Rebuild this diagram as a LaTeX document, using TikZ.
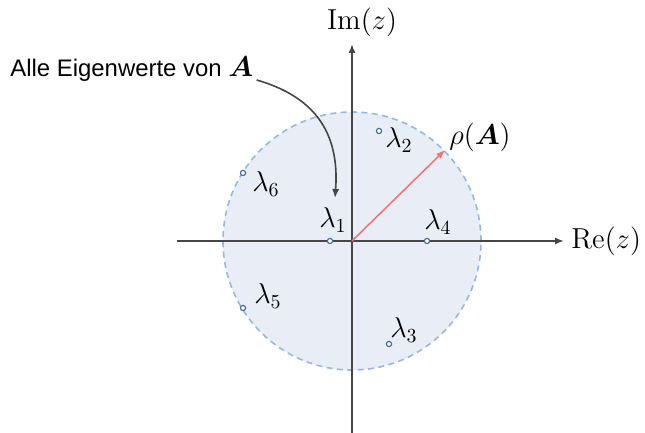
\documentclass[tikz,border=0pt]{standalone}
\usepackage{amsmath,bm}
\usepackage{fontspec}
\setsansfont{Liberation Sans}
\usetikzlibrary{arrows.meta}
\definecolor{discfill}{RGB}{233,238,246}
\definecolor{discline}{RGB}{150,186,222}
\definecolor{axisgray}{RGB}{70,70,70}
\definecolor{ptblue}{RGB}{70,110,160}
\definecolor{rhored}{RGB}{242,118,118}
\begin{document}
\begin{tikzpicture}[x=0.5bp,y=-0.5bp,
  axis/.style={draw=axisgray,line width=0.9bp,-{Latex[length=4.5bp,width=3.6bp]}},
  eig/.style={circle,draw=ptblue,fill=white,line width=0.6bp,inner sep=0pt,minimum size=2.6bp},
  lab/.style={inner sep=0pt,font=\fontsize{14.5}{16}\selectfont},
  note/.style={inner sep=0pt,font=\sffamily\fontsize{12}{14}\selectfont}]
\useasboundingbox (0,0) rectangle (645,433);
% disc
\coordinate (O) at (352,241);
\fill[discfill] (O) circle[radius=129*0.5bp];
\draw[discline,dashed,line width=0.8bp,dash pattern=on 3bp off 2.2bp] (O) circle[radius=129*0.5bp];
% axes
\coordinate (xs) at (177,241);
\coordinate (xe) at (564,241);
\coordinate (ys) at (352,433);
\coordinate (ye) at (352,44);
\draw[axis] (xs) -- (xe);
\draw[axis] (ys) -- (ye);
\node[lab,anchor=west] (re) at (571,241) {$\mathrm{Re}(z)$};
\node[lab] (im) at (362,22) {$\mathrm{Im}(z)$};
% radius arrow
\coordinate (rt) at (445,150);
\draw[rhored,line width=0.8bp,-{Latex[length=4.5bp,width=3.6bp]}] (O) -- (rt);
\node[lab] (rho) at (480,137) {$\rho(\bm{A})$};
% eigenvalues
\node[eig] (p1) at (330,241) {};
\node[eig] (p2) at (379,131) {};
\node[eig] (p3) at (389,344) {};
\node[eig] (p4) at (427,241) {};
\node[eig] (p5) at (243,308) {};
\node[eig] (p6) at (243,173) {};
\node[lab] (l1) at (333,220) {$\lambda_1$};
\node[lab] (l2) at (399,140) {$\lambda_2$};
\node[lab] (l3) at (404,330) {$\lambda_3$};
\node[lab] (l4) at (438,222) {$\lambda_4$};
\node[lab] (l5) at (268,296) {$\lambda_5$};
\node[lab] (l6) at (266,184) {$\lambda_6$};
% annotation
\node[note,anchor=base west] (txt) at (10,77) {Alle Eigenwerte von {\fontsize{14.5}{16}\selectfont$\bm{A}$}};
\coordinate (tip) at (335,198);
\draw[axisgray,line width=0.8bp,-{Latex[length=4.5bp,width=3.6bp]}] (txt.base east) ++(3,3) .. controls (312,96) and (340,130) .. (tip);
\end{tikzpicture}
\end{document}
